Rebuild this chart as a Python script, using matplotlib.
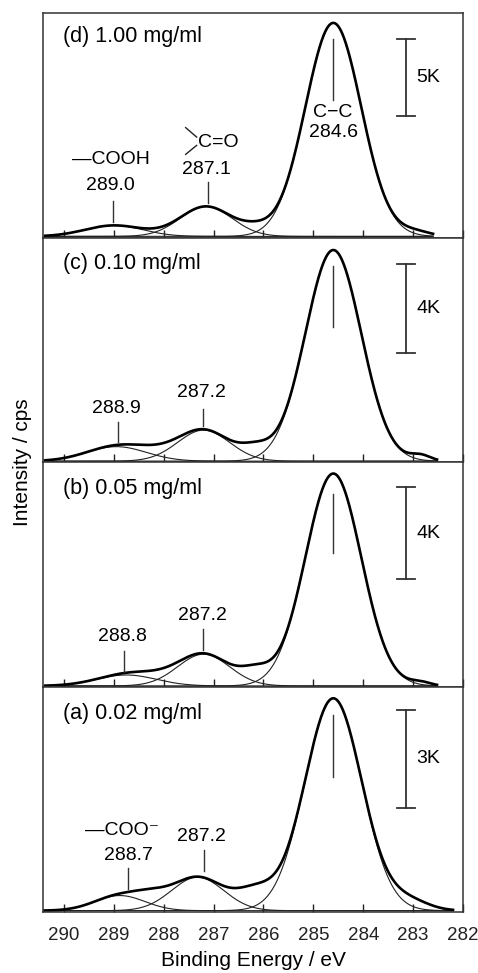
import numpy as np
import matplotlib.pyplot as plt
from matplotlib.transforms import blended_transform_factory

plt.rcParams['font.family'] = ['Liberation Sans', 'DejaVu Sans']

# panels from top to bottom
panel_labels = ['(d) 1.00 mg/ml', '(c) 0.10 mg/ml', '(b) 0.05 mg/ml', '(a) 0.02 mg/ml']
scale_cps = [5000, 4000, 4000, 3000]
scale_text = ['5K', '4K', '4K', '3K']
ymax_cps = [14545, 10000, 9710, 6870]
data_start = [290.38, 290.38, 290.38, 290.42]
data_end = [282.6, 282.52, 282.52, 282.2]

# fitted components: centre (eV), height (cps), sigma (eV)
cc_center = [284.6, 284.6, 284.6, 284.6]
cc_height = [13900, 9450, 9230, 6530]
cc_sigma = [0.56, 0.56, 0.56, 0.57]
co_center = [287.15, 287.2, 287.2, 287.32]
co_height = [1950, 1390, 1380, 1030]
co_sigma = [0.52, 0.52, 0.52, 0.52]
cooh_center = [289.0, 288.95, 288.75, 288.88]
cooh_height = [715, 650, 475, 465]
cooh_sigma = [0.58, 0.6, 0.6, 0.5]

# measured intensity not covered by the fit (shoulders / tails)
shoulder_center = [286.15, 286.15, 286.15, 286.15]
shoulder_height = [390, 490, 560, 580]
shoulder_sigma = [0.3, 0.3, 0.3, 0.38]
low_center = [288.2, 288.2, 288.2, 288.25]
low_height = [0, 220, 150, 260]
low_sigma = [0.5, 0.5, 0.5, 0.35]
tail_center = [282.95, 282.85, 282.85, 283.1]
tail_height = [290, 250, 150, 305]
tail_sigma = [0.3, 0.2, 0.2, 0.4]

# peak annotations
cc_mark = [284.6, 284.6, 284.6, 284.6]
co_mark = [287.11, 287.21, 287.21, 287.2]
co_text = ['287.1', '287.2', '287.2', '287.2']
cooh_mark = [289.01, 288.91, 288.8, 288.71]
cooh_text = ['289.0', '288.9', '288.8', '288.7']


def gauss(x, c, h, s):
    return h * np.exp(-0.5 * ((x - c) / s) ** 2)


fig, axes = plt.subplots(4, 1, figsize=(4.78, 9.73), dpi=100, sharex=True)
fig.subplots_adjust(left=43/478, right=463/478, top=1-13/973, bottom=1-912/973, hspace=0)

# layout (axes fraction) per panel
main_line = [(0.884, 0.612), (0.876, 0.604), (0.862, 0.596), (0.876, 0.601)]
co_line = [(0.25, 0.156), (0.24, 0.164), (0.258, 0.164), (0.276, 0.184)]
co_lab_y = [0.304, 0.312, 0.32, 0.338]
co_lab_dx = [0.04, 0.03, 0.01, 0.04]
cooh_line = [(0.165, 0.071), (0.179, 0.090), (0.161, 0.068), (0.196, 0.102)]
cooh_lab_y = [0.232, 0.24, 0.224, 0.253]
cooh_lab_dx = [0.05, 0.03, 0.02, 0.0]
label_y = [0.894, 0.884, 0.884, 0.884]
bar_top = [0.884, 0.884, 0.889, 0.898]

for i, ax in enumerate(axes):
    x = np.linspace(data_start[i], data_end[i], 900)
    c1 = gauss(x, cc_center[i], cc_height[i], cc_sigma[i])
    c2 = gauss(x, co_center[i], co_height[i], co_sigma[i])
    c3 = gauss(x, cooh_center[i], cooh_height[i], cooh_sigma[i])
    meas = (c1 + c2 + c3
            + gauss(x, shoulder_center[i], shoulder_height[i], shoulder_sigma[i])
            + gauss(x, low_center[i], low_height[i], low_sigma[i])
            + gauss(x, tail_center[i], tail_height[i], tail_sigma[i]))

    for comp in (c1, c2, c3):
        ax.plot(x, comp, color='#222222', lw=0.8)
    ax.plot(x, meas, color='black', lw=1.9)

    ymax = ymax_cps[i]
    ax.set_ylim(-0.006 * ymax, ymax)
    ax.set_xlim(290.42, 282)
    ax.set_yticks([])
    ax.set_xticks(range(290, 281, -1))
    ax.tick_params(axis='x', direction='in', length=6, width=1, pad=11,
                   labelsize=13.5, colors='#222222')
    for sp in ax.spines.values():
        sp.set_linewidth(1.1)
        sp.set_color('#333333')

    tr = blended_transform_factory(ax.transData, ax.transAxes)
    ax.text(290.02, label_y[i], panel_labels[i], transform=tr, ha='left', va='center', fontsize=15.5)

    # peak markers
    ax.plot([cc_mark[i]] * 2, main_line[i], transform=tr, color='#333333', lw=1)
    ax.plot([co_mark[i]] * 2, co_line[i], transform=tr, color='#333333', lw=1)
    ax.text(co_mark[i] + co_lab_dx[i], co_lab_y[i], co_text[i], transform=tr,
            ha='center', va='center', fontsize=14)
    ax.plot([cooh_mark[i]] * 2, cooh_line[i], transform=tr, color='#333333', lw=1)
    ax.text(cooh_mark[i] + cooh_lab_dx[i], cooh_lab_y[i], cooh_text[i], transform=tr,
            ha='center', va='center', fontsize=14)

    # scale bar
    top = bar_top[i] * ymax
    bx = 283.15
    ax.plot([bx, bx], [top, top - scale_cps[i]], color='#333333', lw=1.3)
    for yy in (top, top - scale_cps[i]):
        ax.plot([bx + 0.18, bx - 0.18], [yy, yy], color='#333333', lw=1.3)
    ax.text(282.93, top - scale_cps[i] / 2, scale_text[i], ha='left', va='center', fontsize=14)

# chemical group labels
ax_d = axes[0]
trd = blended_transform_factory(ax_d.transData, ax_d.transAxes)
ax_d.text(284.62, 0.558, 'C\u2212C', transform=trd, ha='center', va='center', fontsize=14)
ax_d.text(284.6, 0.469, '284.6', transform=trd, ha='center', va='center', fontsize=14)
ax_d.text(289.06, 0.348, '\u2014COOH', transform=trd, ha='center', va='center', fontsize=14)
ax_d.text(286.91, 0.424, 'C=O', transform=trd, ha='center', va='center', fontsize=14)
ax_d.plot([287.56, 287.34], [0.490, 0.448], transform=trd, color='#222222', lw=1)
ax_d.plot([287.56, 287.34], [0.371, 0.411], transform=trd, color='#222222', lw=1)

ax_a = axes[3]
tra = blended_transform_factory(ax_a.transData, ax_a.transAxes)
ax_a.text(288.84, 0.364, '\u2014COO\u207b', transform=tra, ha='center', va='center', fontsize=14)

ax_a.set_xlabel('Binding Energy / eV', fontsize=15, labelpad=5)
fig.text(23/478, 1 - 462/973, 'Intensity / cps', rotation=90, ha='center', va='center', fontsize=15)

fig.savefig('out.png', dpi=100)
